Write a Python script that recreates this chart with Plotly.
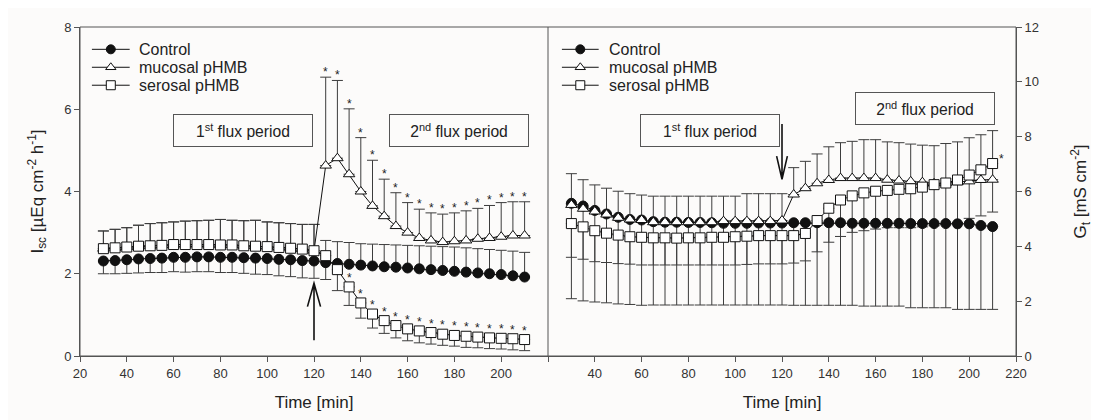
import numpy as np
import plotly.graph_objects as go

# ---------------- data ----------------
time_min = [30, 35, 40, 45, 50, 55, 60, 65, 70, 75, 80, 85, 90, 95, 100, 105, 110, 115, 120,
            125, 130, 135, 140, 145, 150, 155, 160, 165, 170, 175, 180, 185, 190, 195, 200, 205, 210]

# Isc [uEq cm-2 h-1]
isc_control = [2.31, 2.32, 2.34, 2.36, 2.37, 2.38, 2.40, 2.40, 2.41, 2.41, 2.40, 2.40, 2.39, 2.38, 2.37,
               2.35, 2.34, 2.32, 2.31, 2.27, 2.25, 2.23, 2.21, 2.19, 2.17, 2.16, 2.14, 2.12, 2.10, 2.08,
               2.06, 2.04, 2.02, 2.00, 1.98, 1.95, 1.92]
isc_control_sd = [0.31, 0.32, 0.33, 0.34, 0.34, 0.35, 0.35, 0.36, 0.36, 0.36, 0.37, 0.37, 0.38, 0.39, 0.39,
                  0.40, 0.41, 0.42, 0.42, 0.41, 0.53, 0.53, 0.52, 0.53, 0.54, 0.54, 0.55, 0.56, 0.57, 0.58,
                  0.59, 0.59, 0.59, 0.59, 0.59, 0.60, 0.60]
isc_mucosal = [2.61, 2.63, 2.65, 2.67, 2.68, 2.69, 2.71, 2.71, 2.71, 2.71, 2.70, 2.70, 2.68, 2.67, 2.66,
               2.64, 2.62, 2.60, 2.56, 4.63, 4.81, 4.42, 4.00, 3.65, 3.40, 3.16, 3.00, 2.87, 2.81, 2.77,
               2.79, 2.81, 2.85, 2.87, 2.90, 2.93, 2.93]
isc_mucosal_sd = [0.43, 0.45, 0.47, 0.51, 0.54, 0.55, 0.55, 0.57, 0.58, 0.59, 0.62, 0.60, 0.61, 0.63, 0.60,
                  0.60, 0.60, 0.60, 0.64, 2.15, 1.89, 1.59, 1.31, 1.11, 0.90, 0.81, 0.73, 0.70, 0.67, 0.68,
                  0.69, 0.72, 0.74, 0.79, 0.83, 0.82, 0.82]
isc_serosal = [2.61, 2.63, 2.65, 2.67, 2.68, 2.69, 2.71, 2.71, 2.71, 2.71, 2.70, 2.70, 2.68, 2.67, 2.66,
               2.64, 2.62, 2.60, 2.56, 2.44, 2.10, 1.68, 1.29, 1.02, 0.86, 0.74, 0.66, 0.61, 0.57, 0.53,
               0.50, 0.48, 0.46, 0.44, 0.43, 0.42, 0.40]
isc_serosal_sd = [0.43, 0.45, 0.47, 0.51, 0.54, 0.55, 0.55, 0.57, 0.58, 0.59, 0.62, 0.60, 0.61, 0.63, 0.60,
                  0.60, 0.60, 0.60, 0.64, 0.37, 0.51, 0.45, 0.37, 0.34, 0.31, 0.30, 0.29, 0.29, 0.28, 0.27,
                  0.26, 0.27, 0.26, 0.26, 0.26, 0.27, 0.27]
# time from which the control bars point up / serosal bars point down (left panel)
isc_switch_time = 130
isc_mucosal_star_times = [125, 130, 135, 140, 145, 150, 155, 160, 165, 170, 175, 180, 185, 190, 195, 200, 205, 210]
isc_serosal_star_times = [135, 140, 145, 150, 155, 160, 165, 170, 175, 180, 185, 190, 195, 200, 205, 210]

# Gt [mS cm-2]
gt_control = [5.57, 5.47, 5.31, 5.18, 5.06, 4.98, 4.96, 4.90, 4.88, 4.88, 4.87, 4.87, 4.86, 4.84, 4.84,
              4.84, 4.85, 4.85, 4.85, 4.86, 4.86, 4.86, 4.86, 4.86, 4.84, 4.84, 4.84, 4.84, 4.84, 4.83,
              4.83, 4.83, 4.83, 4.82, 4.82, 4.76, 4.72]
gt_control_sd = [3.48, 3.46, 3.34, 3.24, 3.16, 3.10, 3.11, 3.04, 3.02, 3.02, 3.01, 3.01, 3.00, 2.98, 2.98,
                 2.98, 2.99, 2.99, 2.99, 3.01, 3.01, 3.01, 3.01, 3.01, 2.99, 3.02, 3.02, 3.02, 3.02, 3.07,
                 3.07, 3.07, 3.07, 3.12, 3.12, 3.06, 3.02]
gt_mucosal = [5.51, 5.37, 5.27, 5.16, 5.04, 4.98, 4.96, 4.88, 4.88, 4.88, 4.88, 4.88, 4.88, 4.92, 4.92,
              4.92, 4.92, 4.92, 4.94, 5.89, 6.12, 6.30, 6.42, 6.49, 6.49, 6.49, 6.49, 6.43, 6.40, 6.37,
              6.34, 6.30, 6.30, 6.34, 6.37, 6.42, 6.43]
gt_mucosal_sd = [1.14, 1.06, 0.97, 0.96, 0.97, 0.94, 0.91, 0.95, 0.95, 0.95, 0.95, 0.95, 0.95, 0.91, 0.91,
                 1.00, 1.00, 1.00, 0.98, 0.98, 0.98, 1.07, 1.21, 1.29, 1.34, 1.40, 1.40, 1.38, 1.38, 1.36,
                 1.35, 1.37, 1.45, 1.47, 1.59, 1.65, 1.79]
gt_serosal = [4.83, 4.71, 4.57, 4.48, 4.41, 4.35, 4.33, 4.31, 4.31, 4.30, 4.31, 4.31, 4.33, 4.33, 4.35,
              4.37, 4.39, 4.39, 4.39, 4.39, 4.47, 4.94, 5.39, 5.69, 5.84, 5.95, 6.01, 6.04, 6.08, 6.10,
              6.16, 6.25, 6.31, 6.42, 6.60, 6.79, 7.02]
gt_serosal_sd = [1.23, 1.18, 1.13, 1.07, 1.04, 1.00, 1.01, 0.99, 0.99, 0.98, 0.99, 0.99, 1.01, 1.01, 1.03,
                 1.03, 1.03, 1.03, 1.03, 1.00, 1.00, 1.14, 1.24, 1.33, 1.33, 1.38, 1.38, 1.36, 1.40, 1.42,
                 1.45, 1.50, 1.52, 1.55, 1.58, 1.68, 1.77]
gt_serosal_star_times = [210]

left_x_ticks = [20, 40, 60, 80, 100, 120, 140, 160, 180, 200]
right_x_ticks = [40, 60, 80, 100, 120, 140, 160, 180, 200, 220]
isc_ticks = [0, 2, 4, 6, 8]
gt_ticks = [0, 2, 4, 6, 8, 10, 12]
series_names = ["Control", "mucosal pHMB", "serosal pHMB"]

# ---------------- styles / geometry ----------------
BG = "#fcfbfa"
AX = "#555555"
INK = "#111111"
FONT = "Liberation Sans, Arial, sans-serif"
# page body has an 8px margin: shift the figure so the plot frame sits at x 80..1022, y 20..359
FIG_W, FIG_H = 1091, 412
M_L, M_R, M_T, M_B = 72, 77, 12, 61
PLOT_W = FIG_W - M_L - M_R
PLOT_H = FIG_H - M_T - M_B
PAGE_X0, PAGE_Y0 = 8 + M_L, 8 + M_T


def px_x(px):
    return (px - PAGE_X0) / PLOT_W


def px_y(py):
    return 1 - (py - PAGE_Y0) / PLOT_H


t = np.array(time_min, dtype=float)
zeros = np.zeros(len(t))

fig = go.Figure()


def err_trace(y, up, down, xa, ya):
    fig.add_trace(go.Scatter(
        x=t, y=y, mode="markers", xaxis=xa, yaxis=ya, showlegend=False, hoverinfo="skip",
        marker=dict(size=1, opacity=0),
        error_y=dict(type="data", symmetric=False, array=up, arrayminus=down,
                     color="#3c3c3c", thickness=1, width=5.5)))


MARKERS = [("circle", INK), ("triangle-up", "white"), ("square", "white")]


def series_trace(y, k, xa, ya):
    sym, fill = MARKERS[k]
    fig.add_trace(go.Scatter(
        x=t, y=y, mode="lines+markers", name=series_names[k], xaxis=xa, yaxis=ya, showlegend=False,
        line=dict(color=INK, width=1),
        marker=dict(symbol=sym, size=10, color=fill, line=dict(color=INK, width=1))))


# ---- left panel (Isc) ----
ic = np.array(isc_control); ic_sd = np.array(isc_control_sd)
im = np.array(isc_mucosal); im_sd = np.array(isc_mucosal_sd)
iser = np.array(isc_serosal); iser_sd = np.array(isc_serosal_sd)
after = t >= isc_switch_time

err_trace(ic, np.where(after, ic_sd, 0), np.where(after, 0, ic_sd), "x", "y")
err_trace(im, im_sd, zeros, "x", "y")
err_trace(iser, np.where(after, 0, iser_sd), np.where(after, iser_sd, 0), "x", "y")
series_trace(ic, 0, "x", "y")
series_trace(im, 1, "x", "y")
series_trace(iser, 2, "x", "y")

# ---- right panel (Gt) ----
gc = np.array(gt_control); gc_sd = np.array(gt_control_sd)
gm = np.array(gt_mucosal); gm_sd = np.array(gt_mucosal_sd)
gs = np.array(gt_serosal); gs_sd = np.array(gt_serosal_sd)

err_trace(gc, zeros, gc_sd, "x2", "y2")
err_trace(gm, gm_sd, zeros, "x2", "y2")
err_trace(gs, zeros, gs_sd, "x2", "y2")
series_trace(gc, 0, "x2", "y2")
series_trace(gm, 1, "x2", "y2")
series_trace(gs, 2, "x2", "y2")

# ---- legends (drawn on an invisible full-frame axis pair) ----
annotations = []
LEG_ROWS = [43, 61.5, 80]
LEGENDS = [(92, 130, 137), (565, 602, 610)]
for (l0, l1, tx) in LEGENDS:
    for k, row in enumerate(LEG_ROWS):
        sym, fill = MARKERS[k]
        fig.add_trace(go.Scatter(
            x=[px_x(l0), px_x(l1)], y=[px_y(row)] * 2, mode="lines", xaxis="x3", yaxis="y3",
            showlegend=False, hoverinfo="skip", line=dict(color=INK, width=1)))
        fig.add_trace(go.Scatter(
            x=[px_x((l0 + l1) / 2)], y=[px_y(row)], mode="markers", xaxis="x3", yaxis="y3",
            showlegend=False, hoverinfo="skip",
            marker=dict(symbol=sym, size=9, color=fill, line=dict(color=INK, width=1))))
        annotations.append(dict(x=px_x(tx), y=px_y(row), xref="paper", yref="paper",
                                text=series_names[k], showarrow=False, xanchor="left",
                                yanchor="middle", font=dict(size=16, color="#222", family=FONT)))

# ---- significance stars ----
for tm in isc_mucosal_star_times:
    i = time_min.index(tm)
    annotations.append(dict(x=tm, y=isc_mucosal[i] + isc_mucosal_sd[i], xref="x", yref="y",
                            text="*", showarrow=False, yanchor="middle", yshift=5,
                            font=dict(size=12, color="#222", family=FONT)))
for tm in isc_serosal_star_times:
    i = time_min.index(tm)
    annotations.append(dict(x=tm, y=isc_serosal[i], xref="x", yref="y",
                            text="*", showarrow=False, yanchor="middle", yshift=9,
                            font=dict(size=12, color="#222", family=FONT)))
for tm in gt_serosal_star_times:
    i = time_min.index(tm)
    annotations.append(dict(x=tm, y=gt_serosal[i], xref="x2", yref="y2",
                            text="*", showarrow=False, yanchor="middle", xshift=9, yshift=5,
                            font=dict(size=12, color="#222", family=FONT)))

# ---- flux-period boxes ----
boxes = [
    ("1<sup>st</sup> flux period", 89.6, 5.49, "x", "y"),
    ("2<sup>nd</sup> flux period", 181.9, 5.49, "x", "y"),
    ("1<sup>st</sup> flux period", 89.3, 8.21, "x2", "y2"),
    ("2<sup>nd</sup> flux period", 181.0, 9.04, "x2", "y2"),
]
for txt, bx, by, xr, yr in boxes:
    annotations.append(dict(x=bx, y=by, xref=xr, yref=yr, text=txt, showarrow=False,
                            xanchor="center", yanchor="middle", width=134, height=27,
                            borderpad=2, borderwidth=1, bordercolor=AX,
                            font=dict(size=15.7, color="#222", family=FONT)))


# ---- arrows (open chevron heads) ----
def arrow_path(x, y_tail, y_tip, head_dx, head_dy):
    sgn = 1 if y_tip > y_tail else -1
    return (f"M{x},{y_tail} L{x},{y_tip} "
            f"M{x - head_dx},{y_tip - sgn * head_dy} L{x},{y_tip} L{x + head_dx},{y_tip - sgn * head_dy}")


shapes = [
    dict(type="rect", xref="paper", yref="paper", x0=0, y0=0, x1=1, y1=1,
         line=dict(color=AX, width=1)),
    dict(type="line", xref="paper", yref="paper", x0=0.5, y0=0, x1=0.5, y1=1,
         line=dict(color=AX, width=1)),
    dict(type="path", xref="x", yref="y", path=arrow_path(120, 0.38, 1.77, 2.8, 0.57),
         line=dict(color=INK, width=1.6)),
    dict(type="path", xref="x2", yref="y2", path=arrow_path(120, 8.46, 6.44, 2.3, 0.85),
         line=dict(color=INK, width=1.6)),
]

tick_font = dict(size=13, color="#333", family=FONT)
title_font = dict(size=17, color="#222", family=FONT)
common_x = dict(range=[20, 220], ticks="outside", ticklen=5, tickcolor=AX,
                showline=True, linecolor=AX, showgrid=False, zeroline=False, tickfont=tick_font)
common_y = dict(ticks="outside", ticklen=5, tickcolor=AX, showline=True, linecolor=AX,
                showgrid=False, zeroline=False, tickfont=tick_font)

fig.update_layout(
    width=FIG_W, height=FIG_H,
    margin=dict(l=M_L, r=M_R, t=M_T, b=M_B),
    paper_bgcolor=BG, plot_bgcolor="rgba(0,0,0,0)",
    font=dict(family=FONT, size=12, color="#333"),
    showlegend=False,
    xaxis=dict(domain=[0, 0.5], anchor="y", tickvals=left_x_ticks,
               minor=dict(tickvals=[220], ticks="outside", ticklen=5, tickcolor=AX),
               title=dict(text="Time [min]", font=title_font, standoff=16), **common_x),
    xaxis2=dict(domain=[0.5, 1], anchor="y2", tickvals=right_x_ticks,
                minor=dict(tickvals=[20], ticks="outside", ticklen=5, tickcolor=AX),
                title=dict(text="Time [min]", font=title_font, standoff=16), **common_x),
    yaxis=dict(domain=[0, 1], anchor="x", range=[0, 8], tickvals=isc_ticks,
               title=dict(text="I<sub>sc</sub> [µEq cm<sup>-2</sup> h<sup>-1</sup>]",
                          font=title_font, standoff=16), **common_y),
    yaxis2=dict(domain=[0, 1], anchor="x2", side="right", range=[0, 12], tickvals=gt_ticks,
                title=dict(text="G<sub>t</sub> [mS cm<sup>-2</sup>]",
                           font=title_font, standoff=36), **common_y),
    xaxis3=dict(domain=[0, 1], anchor="y3", range=[0, 1], visible=False, fixedrange=True),
    yaxis3=dict(domain=[0, 1], anchor="x3", range=[0, 1], visible=False, fixedrange=True),
    annotations=annotations,
    shapes=shapes,
)

fig.write_html("out.html")
